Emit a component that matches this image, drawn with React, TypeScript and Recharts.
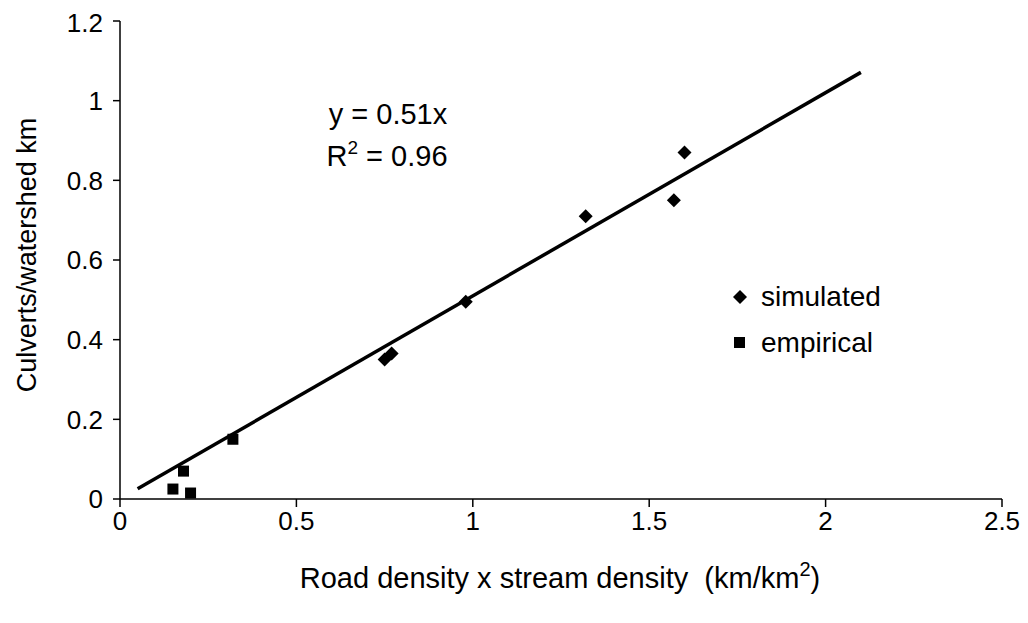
import { ScatterChart, Scatter, XAxis, YAxis, ReferenceLine, Legend } from "recharts";

const simulatedX = [0.75, 0.77, 0.98, 1.32, 1.57, 1.6];
const simulatedY = [0.35, 0.365, 0.495, 0.71, 0.75, 0.87];
const empiricalX = [0.15, 0.18, 0.2, 0.32];
const empiricalY = [0.025, 0.07, 0.015, 0.15];
const fitSlope = 0.51;
const fitRange = [0.05, 2.1];
const xTicks = [0, 0.5, 1, 1.5, 2, 2.5];
const yTicks = [0, 0.2, 0.4, 0.6, 0.8, 1, 1.2];

const simulated = simulatedX.map((x, i) => ({ x, y: simulatedY[i] }));
const empirical = empiricalX.map((x, i) => ({ x, y: empiricalY[i] }));
const fitSegment = fitRange.map((x) => ({ x, y: x * fitSlope }));

const FONT = "'Liberation Sans', Arial, sans-serif";

const Diamond = (props: any) => {
  const { cx, cy } = props;
  const r = 7;
  return <path d={`M${cx},${cy - r}L${cx + r},${cy}L${cx},${cy + r}L${cx - r},${cy}Z`} fill="#000" />;
};

const Square = (props: any) => {
  const { cx, cy } = props;
  return <rect x={cx - 5.5} y={cy - 5.5} width={11} height={11} fill="#000" />;
};

const LegendBox = () => (
  <div style={{ fontFamily: FONT, fontSize: 28, color: "#000", lineHeight: "46px" }}>
    <div style={{ display: "flex", alignItems: "center" }}>
      <svg width={32} height={20}>
        <path d="M11,3L18,10L11,17L4,10Z" fill="#000" />
      </svg>
      <span>simulated</span>
    </div>
    <div style={{ display: "flex", alignItems: "center" }}>
      <svg width={32} height={20}>
        <rect x={5} y={4} width={11} height={11} fill="#000" />
      </svg>
      <span>empirical</span>
    </div>
  </div>
);

export default function App() {
  return (
    <div style={{ fontFamily: FONT, background: "#fff" }}>
      <ScatterChart width={1012} height={607} margin={{ top: 13, right: 18, left: 0, bottom: 0 }}>
        <XAxis
          type="number"
          dataKey="x"
          domain={[0, 2.5]}
          ticks={xTicks}
          height={116}
          axisLine={{ stroke: "#000", strokeWidth: 1.5 }}
          tickLine={{ stroke: "#000", strokeWidth: 1.5 }}
          tickSize={8}
          tickMargin={5}
          tick={{ fill: "#000", fontSize: 26, fontFamily: FONT }}
        />
        <YAxis
          type="number"
          dataKey="y"
          domain={[0, 1.2]}
          ticks={yTicks}
          width={112}
          axisLine={{ stroke: "#000", strokeWidth: 1.5 }}
          tickLine={{ stroke: "#000", strokeWidth: 1.5 }}
          tickSize={7}
          tickMargin={10}
          tick={{ fill: "#000", fontSize: 26, fontFamily: FONT }}
        />
        <ReferenceLine
          segment={fitSegment}
          stroke="#000"
          strokeWidth={3.5}
          ifOverflow="visible"
        />
        <Scatter name="simulated" data={simulated} shape={Diamond} isAnimationActive={false} />
        <Scatter name="empirical" data={empirical} shape={Square} isAnimationActive={false} />
        <Legend
          layout="vertical"
          align="center"
          verticalAlign="middle"
          wrapperStyle={{ left: 721, top: 266, width: 200 }}
          content={LegendBox}
        />
        <text x={380} y={116} textAnchor="middle" fontSize={29} fontFamily={FONT} fill="#000">
          y = 0.51x
        </text>
        <text x={379} y={158} textAnchor="middle" fontSize={29} fontFamily={FONT} fill="#000">
          R<tspan dy={-12} fontSize={19}>2</tspan>
          <tspan dy={12}> = 0.96</tspan>
        </text>
        <text
          x={19}
          y={247}
          transform="rotate(-90 19 247)"
          textAnchor="middle"
          dominantBaseline="central"
          fontSize={27}
          fontFamily={FONT}
          fill="#000"
        >
          Culverts/watershed km
        </text>
        <text x={552} y={580} textAnchor="middle" fontSize={29} fontFamily={FONT} fill="#000">
          {"Road density x stream density\u00a0\u00a0(km/km"}
          <tspan dy={-12} fontSize={20}>2</tspan>
          <tspan dy={12}>)</tspan>
        </text>
      </ScatterChart>
    </div>
  );
}
